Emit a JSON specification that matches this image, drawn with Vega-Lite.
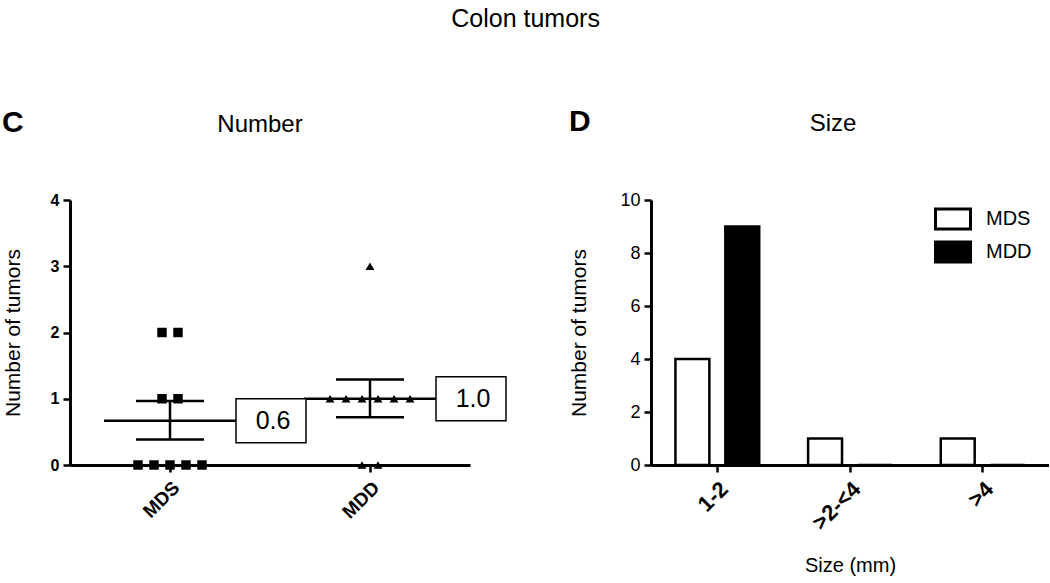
{
  "$schema": "https://vega.github.io/schema/vega-lite/v6.json",
  "background": "white",
  "padding": {"left": 2, "top": 7, "right": 0, "bottom": 0},
  "config": {
    "view": {"stroke": null},
    "font": "Liberation Sans",
    "axis": {
      "domainColor": "black", "domainWidth": 3, "tickColor": "black", "tickWidth": 2.5, "tickSize": 7,
      "labelColor": "black", "titleColor": "black", "labelFont": "Liberation Sans", "titleFont": "Liberation Sans",
      "grid": false, "titleFontWeight": "normal"
    }
  },
  "title": {"text": "Colon tumors", "fontSize": 25, "fontWeight": "normal", "color": "black", "anchor": "middle", "offset": 75},
  "spacing": 58,
  "resolve": {"scale": {"fill": "independent", "shape": "independent", "size": "independent"}},
  "hconcat": [
    {
      "title": {"text": "C", "fontSize": 30, "fontWeight": "bold", "color": "black", "anchor": "start", "frame": "bounds", "offset": -25},
      "hconcat": [
        {
          "width": 400,
          "height": 265,
          "title": {"text": "Number", "fontSize": 24, "fontWeight": "normal", "color": "black", "offset": 55, "dx": -10},
          "data": {"values": [
            {"group": "MDS", "value": 0, "slot": -2},
            {"group": "MDS", "value": 0, "slot": -1},
            {"group": "MDS", "value": 0, "slot": 0},
            {"group": "MDS", "value": 0, "slot": 1},
            {"group": "MDS", "value": 0, "slot": 2},
            {"group": "MDS", "value": 1, "slot": -0.5},
            {"group": "MDS", "value": 1, "slot": 0.5},
            {"group": "MDS", "value": 2, "slot": -0.5},
            {"group": "MDS", "value": 2, "slot": 0.5},
            {"group": "MDD", "value": 0, "slot": -0.5},
            {"group": "MDD", "value": 0, "slot": 0.5},
            {"group": "MDD", "value": 1, "slot": -2.5},
            {"group": "MDD", "value": 1, "slot": -1.5},
            {"group": "MDD", "value": 1, "slot": -0.5},
            {"group": "MDD", "value": 1, "slot": 0.5},
            {"group": "MDD", "value": 1, "slot": 1.5},
            {"group": "MDD", "value": 1, "slot": 2.5},
            {"group": "MDD", "value": 3, "slot": 0}
          ]},
          "encoding": {
            "x": {"field": "group", "type": "nominal", "sort": ["MDS", "MDD"],
                  "scale": {"domain": ["MDS", "MDD"], "paddingInner": 0, "paddingOuter": 0},
                  "axis": {"title": null, "labelAngle": -45, "labelFontSize": 19, "labelFontWeight": "bold", "labelPadding": 6}},
            "y": {"field": "value", "type": "quantitative", "scale": {"domain": [0, 4], "nice": false},
                  "axis": {"title": "Number of tumors", "titleFontSize": 21, "titlePadding": 27, "values": [0, 1, 2, 3, 4], "format": "d",
                           "labelFontSize": 16, "labelFontWeight": "bold", "labelPadding": 4}}
          },
          "layer": [
            {
              "mark": {"type": "point", "filled": true, "color": "black", "opacity": 1},
              "encoding": {
                "xOffset": {"field": "slot", "type": "quantitative", "scale": {"domain": [-5, 5], "range": [20, 180]}},
                "shape": {"field": "group", "type": "nominal", "scale": {"domain": ["MDS", "MDD"], "range": ["square", "triangle-up"]}, "legend": null},
                "size": {"field": "group", "type": "nominal", "scale": {"domain": ["MDS", "MDD"], "range": [90, 80]}, "legend": null}
              }
            },
            {
              "data": {"values": [
                {"group": "MDS", "mean": 0.667, "lo": 0.385, "hi": 0.965, "label": "0.6"},
                {"group": "MDD", "mean": 1.0, "lo": 0.72, "hi": 1.29, "label": "1.0"}
              ]},
              "layer": [
                {"mark": {"type": "rule", "color": "black", "strokeWidth": 2.5},
                 "encoding": {"y": {"field": "lo", "type": "quantitative"}, "y2": {"field": "hi"}}},
                {"mark": {"type": "tick", "color": "black", "thickness": 2.5, "size": 132, "orient": "horizontal", "opacity": 1},
                 "encoding": {"y": {"field": "mean", "type": "quantitative"}}},
                {"mark": {"type": "tick", "color": "black", "thickness": 2.5, "size": 68, "orient": "horizontal", "opacity": 1},
                 "encoding": {"y": {"field": "lo", "type": "quantitative"}}},
                {"mark": {"type": "tick", "color": "black", "thickness": 2.5, "size": 68, "orient": "horizontal", "opacity": 1},
                 "encoding": {"y": {"field": "hi", "type": "quantitative"}}},
                {"mark": {"type": "point", "shape": "M1.886,-0.629H3.886V0.629H1.886Z", "size": 4900, "filled": false, "fill": "white", "stroke": "black", "strokeWidth": 1.5, "opacity": 1, "clip": false},
                 "encoding": {"y": {"field": "mean", "type": "quantitative"}}},
                {"mark": {"type": "text", "fontSize": 25, "color": "black", "dx": 103, "align": "center", "baseline": "middle", "clip": false},
                 "encoding": {"y": {"field": "mean", "type": "quantitative"}, "text": {"field": "label"}}}
              ]
            }
          ]
        }
      ]
    },
    {
      "title": {"text": "D", "fontSize": 30, "fontWeight": "bold", "color": "black", "anchor": "start", "frame": "bounds", "offset": -25},
      "resolve": {"scale": {"fill": "independent"}, "legend": {"fill": "independent"}},
      "hconcat": [
        {
          "width": 398,
          "height": 265,
          "title": {"text": "Size", "fontSize": 24, "fontWeight": "normal", "color": "black", "offset": 55, "dx": -17},
          "data": {"values": [
            {"size": "1-2", "group": "MDS", "count": 4},
            {"size": "1-2", "group": "MDD", "count": 9},
            {"size": ">2-<4", "group": "MDS", "count": 1},
            {"size": ">2-<4", "group": "MDD", "count": 0},
            {"size": ">4", "group": "MDS", "count": 1},
            {"size": ">4", "group": "MDD", "count": 0}
          ]},
          "mark": {"type": "bar", "stroke": "black", "strokeWidth": 2.5},
          "encoding": {
            "x": {"field": "size", "type": "nominal", "sort": ["1-2", ">2-<4", ">4"],
                  "scale": {"paddingInner": 0, "paddingOuter": 0},
                  "axis": {"title": "Size (mm)", "titleFontSize": 20, "titlePadding": 22, "labelAngle": -45, "labelFontSize": 22, "labelFontWeight": "bold", "labelPadding": 6}},
            "xOffset": {"field": "group", "type": "nominal", "sort": ["MDS", "MDD"], "scale": {"paddingInner": 0.32, "paddingOuter": 0.49}},
            "y": {"field": "count", "type": "quantitative", "scale": {"domain": [0, 10], "nice": false},
                  "axis": {"title": "Number of tumors", "titleFontSize": 21, "titlePadding": 30, "values": [0, 2, 4, 6, 8, 10],
                           "labelFontSize": 18, "labelPadding": 4}},
            "fill": {"field": "group", "type": "nominal", "sort": ["MDS", "MDD"],
                     "scale": {"domain": ["MDS", "MDD"], "range": ["white", "black"]},
                     "legend": {"title": null, "orient": "none", "legendX": 285, "legendY": 2, "padding": 0,
                                "symbolType": "M-1.129,-0.645H1.129V0.645H-1.129Z", "symbolSize": 961, "symbolStrokeColor": "black", "symbolStrokeWidth": 3,
                                "labelFontSize": 20, "labelColor": "black", "labelOffset": 16, "rowPadding": 0}}
          }
        }
      ]
    }
  ]
}
